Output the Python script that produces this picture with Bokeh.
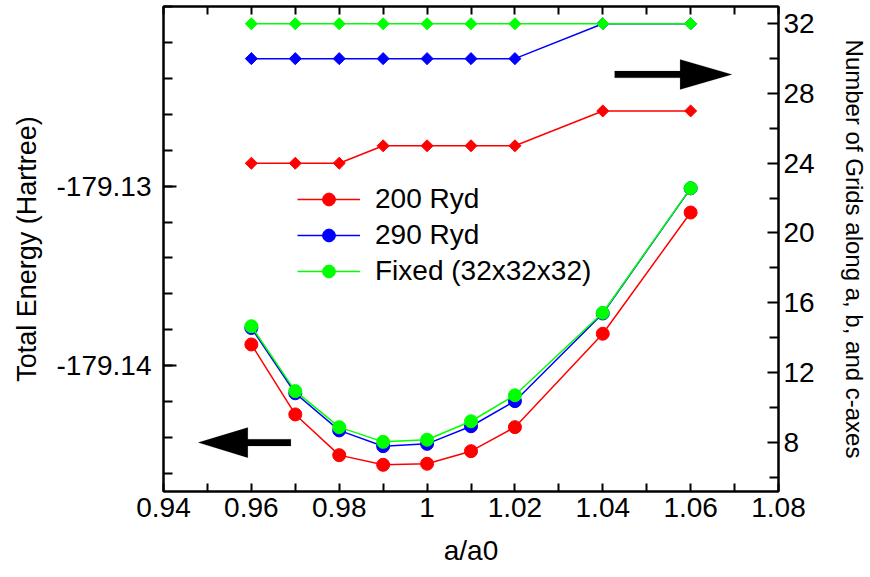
import numpy as np
from bokeh.plotting import figure
from bokeh.models import (Range1d, LinearAxis, FixedTicker, PrintfTickFormatter,
                          CustomJSTickFormatter, Legend, LegendItem, PolyAnnotation)
from bokeh.embed import file_html
from bokeh.resources import INLINE

# ---------------- data ----------------
a_ratio = [0.96, 0.97, 0.98, 0.99, 1.00, 1.01, 1.02, 1.04, 1.06]

energy_200 = [-179.13883, -179.14273, -179.14500, -179.14554, -179.14548,
              -179.14478, -179.14344, -179.13823, -179.13147]
energy_290 = [-179.13791, -179.14155, -179.14362, -179.14450, -179.14437,
              -179.14339, -179.14199, -179.13710, -179.13012]
energy_fixed = [-179.13781, -179.14143, -179.14344, -179.14426, -179.14414,
                -179.14311, -179.14166, -179.13706, -179.13011]

grids_200 = [24, 24, 24, 25, 25, 25, 25, 27, 27]
grids_290 = [30, 30, 30, 30, 30, 30, 30, 32, 32]
grids_fixed = [32, 32, 32, 32, 32, 32, 32, 32, 32]

series_labels = ["200 Ryd", "290 Ryd", "Fixed (32x32x32)"]
series_colors = ["#ff0000", "#0000ff", "#00ff00"]

x_major = [0.94, 0.96, 0.98, 1.00, 1.02, 1.04, 1.06, 1.08]
x_minor = [0.95, 0.97, 0.99, 1.01, 1.03, 1.05, 1.07]
e_major = [-179.14, -179.13]
g_major = [8, 12, 16, 20, 24, 28, 32]
g_minor = [6, 10, 14, 18, 22, 26, 30]

FONT = "Liberation Sans"

# ---------------- figure ----------------
p = figure(width=870, height=577,
           x_range=Range1d(0.94, 1.08),
           y_range=Range1d(-179.147028, -179.11998),
           output_backend="svg", toolbar_location=None,
           x_axis_location=None, y_axis_location=None,
           min_border_left=163, min_border_right=88,
           min_border_top=6, min_border_bottom=86)
p.extra_y_ranges = {"grid": Range1d(5.172, 32.99)}
p.grid.visible = False
p.outline_line_color = "black"
p.outline_line_width = 2
p.background_fill_color = "white"
p.border_fill_color = "white"


def style_axis(ax, major_in, minor_in):
    ax.axis_line_color = "black"
    ax.axis_line_width = 2
    ax.major_tick_line_color = "black"
    ax.major_tick_line_width = 2
    ax.minor_tick_line_color = "black"
    ax.minor_tick_line_width = 2
    ax.major_tick_in = major_in
    ax.major_tick_out = 0
    ax.minor_tick_in = minor_in
    ax.minor_tick_out = 0
    ax.major_label_text_font = FONT
    ax.major_label_text_font_size = "28px"
    ax.major_label_text_color = "black"
    ax.axis_label_text_font = FONT
    ax.axis_label_text_font_style = "normal"
    ax.axis_label_text_color = "black"


xb = LinearAxis(ticker=FixedTicker(ticks=x_major, minor_ticks=x_minor),
                formatter=CustomJSTickFormatter(code="return String(Number(tick.toFixed(2)));"),
                axis_label="a/a0")
style_axis(xb, 8, 8)
xb.major_label_standoff = 6
xb.axis_label_standoff = 15
xb.axis_label_text_font_size = "28px"
p.add_layout(xb, "below")

xt = LinearAxis(ticker=FixedTicker(ticks=[], minor_ticks=x_major + x_minor))
style_axis(xt, 8, 8)
p.add_layout(xt, "above")

e_minor = [round(v, 3) for v in np.arange(-179.146, -179.1199, 0.002)]
yl = LinearAxis(ticker=FixedTicker(ticks=e_major, minor_ticks=e_minor),
                formatter=PrintfTickFormatter(format="%.2f"),
                axis_label="Total Energy (Hartree)")
style_axis(yl, 13, 9)
yl.major_label_standoff = 12
yl.axis_label_standoff = 12
yl.axis_label_text_font_size = "27px"
p.add_layout(yl, "left")

yr = LinearAxis(y_range_name="grid",
                ticker=FixedTicker(ticks=g_major, minor_ticks=g_minor),
                axis_label="Number of Grids along a, b, and c-axes")
style_axis(yr, 11, 9)
yr.major_label_standoff = 5
yr.axis_label_standoff = 23
yr.axis_label_text_font_size = "24px"
p.add_layout(yr, "right")

# ---------------- data renderers ----------------
energies = [energy_200, energy_290, energy_fixed]
grids = [grids_200, grids_290, grids_fixed]
items = []
for lab, col, en, gr in zip(series_labels, series_colors, energies, grids):
    gl = p.line(a_ratio, gr, line_color=col, line_width=1.5, y_range_name="grid")
    gs = p.scatter(a_ratio, gr, marker="square", angle=np.pi / 4, size=8.5,
                   fill_color=col, line_color=col, y_range_name="grid")
    el = p.line(a_ratio, en, line_color=col, line_width=1.5)
    es = p.scatter(a_ratio, en, marker="circle", size=13,
                   fill_color=col, line_color=col)
    items.append(LegendItem(label=lab, renderers=[el, es]))

legend = Legend(items=items, location=(134, 204),
                border_line_color=None, background_fill_alpha=0,
                padding=0, margin=0, spacing=4,
                glyph_width=63, glyph_height=32, label_height=32,
                label_standoff=15,
                label_text_font=FONT, label_text_font_size="28px",
                label_text_color="black")
p.add_layout(legend)

# ---------------- arrows (annotations) ----------------
def arrow_poly(tail_x, base_x, tip_x, y, head_half, shaft_half):
    xs = [tail_x, base_x, base_x, tip_x, base_x, base_x, tail_x]
    ys = [y + shaft_half, y + shaft_half, y + head_half, y,
          y - head_half, y - shaft_half, y - shaft_half]
    return PolyAnnotation(xs=xs, ys=ys, fill_color="black", fill_alpha=1,
                          line_color="black", line_width=0.5, level="overlay")

LEFT_ARROW = dict(tail_x=0.9690, base_x=0.9592, tip_x=0.9479, y=-179.14430,
                  head_half=0.00084, shaft_half=0.00019)
RIGHT_ARROW = dict(tail_x=1.0427, base_x=1.0576, tip_x=1.0694, y=-179.12377,
                   head_half=0.00084, shaft_half=0.00019)
p.add_layout(arrow_poly(**LEFT_ARROW))
p.add_layout(arrow_poly(**RIGHT_ARROW))

open("out.html", "w").write(file_html(p, INLINE))
